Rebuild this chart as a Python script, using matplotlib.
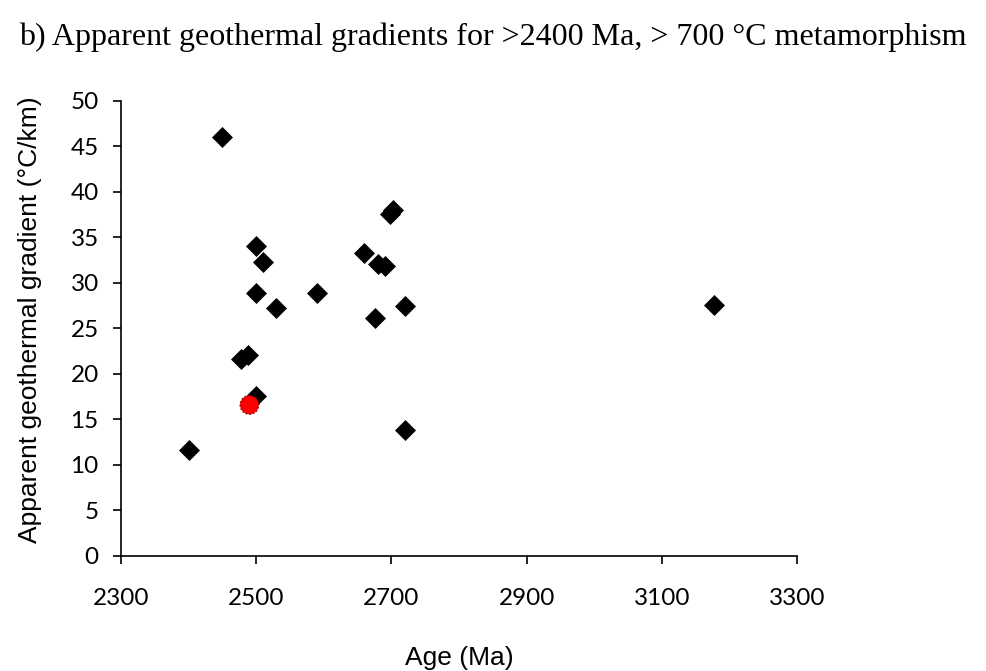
import matplotlib
matplotlib.use("Agg")
import matplotlib.pyplot as plt

# Data
ages = [2400, 2450, 2500, 2510, 2660, 2680, 2691, 2698, 2702, 2500, 2590,
        2530, 2720, 2676, 2478, 2488, 2500, 2720, 3177]
gradients = [11.6, 46.0, 34.1, 32.3, 33.3, 32.1, 31.9, 37.6, 38.0, 28.9, 28.9,
             27.3, 27.5, 26.1, 21.6, 22.1, 17.6, 13.8, 27.6]
highlight_age = [2490]
highlight_gradient = [16.6]

x_ticks = [2300, 2500, 2700, 2900, 3100, 3300]
y_ticks = [0, 5, 10, 15, 20, 25, 30, 35, 40, 45, 50]

title = "b) Apparent geothermal gradients for >2400 Ma, > 700 \u00b0C metamorphism"
xlabel = "Age (Ma)"
ylabel = "Apparent geothermal gradient (\u00b0C/km)"

fig = plt.figure(figsize=(9.86, 6.71), dpi=100)
ax = fig.add_axes([0.1227, 0.1714, 0.6856, 0.6781])

ax.plot(ages, gradients, linestyle="none", marker="D", markersize=9.8,
        color="black", markeredgewidth=0.5, zorder=3)
ax.scatter(highlight_age, highlight_gradient, s=13.5**2, color="#ff0000",
           edgecolors="#7a0000", linewidths=1.0, linestyle=":", zorder=4)

ax.set_xlim(2300, 3300)
ax.set_ylim(0, 50)
ax.set_xticks(x_ticks)
ax.set_yticks(y_ticks)

for s in ["top", "right"]:
    ax.spines[s].set_visible(False)
for s in ["left", "bottom"]:
    ax.spines[s].set_linewidth(1.2)
    ax.spines[s].set_color("black")

ax.tick_params(axis="both", direction="out", length=6, width=1.2, colors="black")
ax.tick_params(axis="x", pad=17)
ax.tick_params(axis="y", pad=10)
for lab in ax.get_xticklabels() + ax.get_yticklabels():
    lab.set_fontfamily("Lato")
    lab.set_fontsize(17.5)

ax.set_xlabel(xlabel, fontfamily="Liberation Sans", fontsize=19, labelpad=27)
ax.set_ylabel(ylabel, fontfamily="Liberation Sans", fontsize=19)
ax.yaxis.set_label_coords(-0.117, 0.519)

fig.text(0.5, 0.945, title, ha="center", va="center",
         fontfamily="Liberation Serif", fontsize=23)

fig.savefig("out.png", dpi=100, facecolor="white")
